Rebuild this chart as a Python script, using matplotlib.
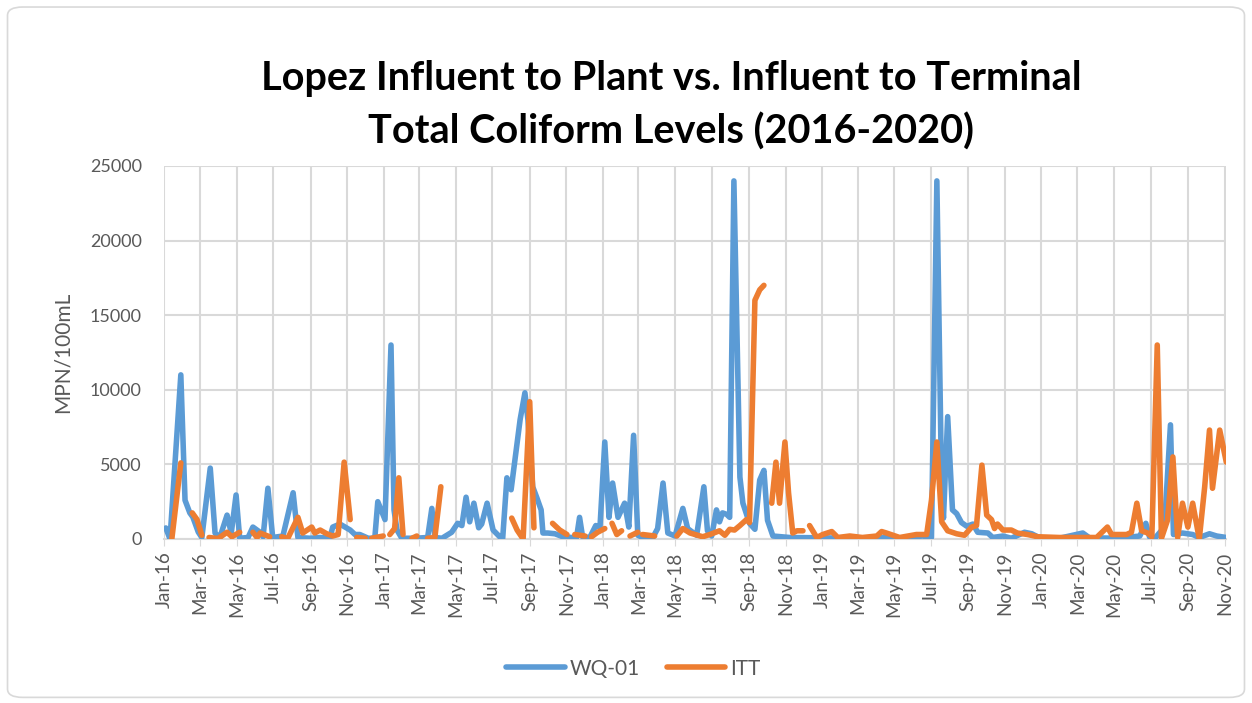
import numpy as np
import pandas as pd
import matplotlib
matplotlib.use("Agg")
import matplotlib.pyplot as plt
import matplotlib.dates as mdates
from matplotlib.patches import FancyBboxPatch

# ---------- data ----------

WQ01_DATES = [
    "2016-01-04", "2016-01-11", "2016-01-29", "2016-02-05", "2016-02-13", "2016-02-18",
    "2016-02-27", "2016-03-04", "2016-03-18", "2016-03-26", "2016-04-03", "2016-04-15",
    "2016-04-22", "2016-04-30", "2016-05-06", "2016-05-20", "2016-05-28", "2016-06-09",
    "2016-06-14", "2016-06-22", "2016-06-30", "2016-07-17", "2016-08-03", "2016-08-11",
    "2016-08-31", "2016-09-17", "2016-10-03", "2016-10-08", "2016-10-20", "2016-11-06",
    "2016-11-14", "2016-11-22", "2016-12-06", "2016-12-17", "2016-12-22", "2016-12-29",
    "2017-01-03", "2017-01-13", "2017-01-18", "2017-01-23", "2017-01-31", "2017-02-22",
    "2017-03-15", "2017-03-22", "2017-03-27", "2017-04-08", "2017-04-24", "2017-05-04",
    "2017-05-11", "2017-05-18", "2017-05-24", "2017-05-31", "2017-06-08", "2017-06-13",
    "2017-06-22", "2017-07-02", "2017-07-13", "2017-07-18", "2017-07-25", "2017-08-01",
    "2017-08-16", "2017-08-24", "2017-08-29", "2017-09-06", "2017-09-13", "2017-09-20",
    "2017-09-23", "2017-10-01", "2017-10-13", "2017-10-26", "2017-11-10", "2017-11-18",
    "2017-11-23", "2017-11-28", "2017-12-10", "2017-12-20", "2017-12-27", "2018-01-04",
    "2018-01-11", "2018-01-17", "2018-01-26", "2018-02-06", "2018-02-13", "2018-02-21",
    "2018-02-28", "2018-03-08", "2018-03-25", "2018-04-02", "2018-04-11", "2018-04-19",
    "2018-05-01", "2018-05-14", "2018-05-22", "2018-06-06", "2018-06-18", "2018-06-24",
    "2018-07-01", "2018-07-09", "2018-07-14", "2018-07-19", "2018-07-26", "2018-07-31",
    "2018-08-07", "2018-08-17", "2018-08-22", "2018-09-02", "2018-09-11", "2018-09-19",
    "2018-09-26", "2018-10-02", "2018-10-11", "2018-11-08", "2018-12-28", "2019-02-16",
    "2019-04-07", "2019-05-18", "2019-06-17", "2019-07-02", "2019-07-11", "2019-07-19",
    "2019-07-22", "2019-07-29", "2019-08-06", "2019-08-13", "2019-08-21", "2019-08-30",
    "2019-09-09", "2019-09-17", "2019-10-04", "2019-10-12", "2019-10-29", "2019-11-12",
    "2019-12-04", "2019-12-16", "2019-12-29", "2020-01-31", "2020-03-10", "2020-03-21",
    "2020-05-10", "2020-06-13", "2020-06-23", "2020-06-29", "2020-07-08", "2020-07-24",
    "2020-08-03", "2020-08-08", "2020-08-23", "2020-09-09", "2020-09-20", "2020-10-07",
    "2020-10-19", "2020-11-04",
]
WQ01_VALUES = [
    740, 0, 11000, 2600, 1750, 1470,
    470, 100, 4750, 400, 100, 1600,
    400, 2950, 50, 100, 800, 450,
    150, 3400, 100, 200, 3100, 100,
    50, 100, 50, 800, 1000, 600,
    300, 300, 50, 50, 2500, 1800,
    1300, 13000, 1950, 600, 50, 50,
    100, 2050, 100, 50, 450, 1050,
    900, 2800, 1150, 2400, 750, 1000,
    2400, 600, 150, 50, 4100, 3300,
    8000, 9800, 8000, 3500, 2750, 1950,
    400, 400, 350, 150, 100, 100,
    1450, 150, 100, 900, 800, 6500,
    1450, 3750, 1450, 2400, 800, 6950,
    250, 100, 100, 700, 3750, 400,
    200, 2050, 700, 250, 3500, 550,
    200, 1950, 1150, 1750, 1650, 1450,
    24000, 4150, 2400, 1050, 650, 3950,
    4600, 1250, 200, 100, 80, 50,
    100, 50, 200, 100, 24000, 3100,
    1400, 8200, 1950, 1700, 1100, 850,
    1000, 450, 400, 100, 200, 50,
    450, 350, 80, 50, 400, 80,
    50, 200, 1050, 150, 50, 800,
    7650, 300, 400, 300, 100, 350,
    200, 100,
]

# None marks a gap in the ITT record
ITT_DATES = [
    "2016-01-14", "2016-01-29", "2016-02-10", "2016-02-17", "2016-02-25", "2016-03-04",
    "2016-03-10", "2016-03-16", "2016-03-31", "2016-04-15", "2016-04-23", "2016-05-06",
    "2016-05-17", "2016-05-28", "2016-06-04", "2016-06-09", "2016-06-25", "2016-07-05",
    "2016-07-15", "2016-07-25", "2016-08-11", "2016-08-19", "2016-09-03", "2016-09-08",
    "2016-09-17", "2016-09-28", "2016-10-08", "2016-10-17", "2016-10-27", "2016-11-06",
    "2016-11-11", "2016-11-17", "2016-12-01", "2016-12-06", "2016-12-12", "2016-12-31",
    "2017-01-05", "2017-01-11", "2017-01-19", "2017-01-26", "2017-02-02", "2017-02-10",
    "2017-02-17", "2017-02-25", "2017-03-06", "2017-03-15", "2017-03-27", "2017-04-06",
    "2017-06-01", "2017-08-02", "2017-08-11", "2017-08-21", "2017-09-01", "2017-09-08",
    "2017-09-25", "2017-10-09", "2017-10-21", "2017-11-02", "2017-11-08", "2017-11-15",
    "2017-12-02", "2017-12-07", "2017-12-13", "2017-12-23", "2018-01-04", "2018-01-10",
    "2018-01-16", "2018-01-24", "2018-02-01", "2018-02-08", "2018-02-15", "2018-02-28",
    "2018-03-04", "2018-03-08", "2018-03-28", "2018-04-15", "2018-05-04", "2018-05-14",
    "2018-05-26", "2018-06-16", "2018-06-28", "2018-07-14", "2018-07-23", "2018-07-31",
    "2018-08-08", "2018-08-17", "2018-08-28", "2018-09-02", "2018-09-11", "2018-09-19",
    "2018-09-26", "2018-10-03", "2018-10-09", "2018-10-16", "2018-10-22", "2018-10-31",
    "2018-11-06", "2018-11-13", "2018-11-20", "2018-11-30", "2018-12-05", "2018-12-11",
    "2018-12-23", "2019-01-02", "2019-01-17", "2019-01-27", "2019-02-16", "2019-03-09",
    "2019-04-02", "2019-04-10", "2019-04-18", "2019-05-10", "2019-06-07", "2019-06-24",
    "2019-07-02", "2019-07-11", "2019-07-19", "2019-07-29", "2019-08-13", "2019-08-26",
    "2019-09-07", "2019-09-15", "2019-09-24", "2019-10-02", "2019-10-10", "2019-10-15",
    "2019-10-20", "2019-10-29", "2019-11-12", "2019-11-22", "2019-12-09", "2019-12-26",
    "2020-01-31", "2020-04-02", "2020-04-20", "2020-04-27", "2020-05-22", "2020-05-30",
    "2020-06-08", "2020-06-16", "2020-06-26", "2020-07-03", "2020-07-12", "2020-07-19",
    "2020-07-29", "2020-08-07", "2020-08-15", "2020-08-23", "2020-09-01", "2020-09-09",
    "2020-09-20", "2020-09-29", "2020-10-07", "2020-10-12", "2020-10-24", "2020-11-04",
]
ITT_VALUES = [
    0, 5100, None, 1750, 1300, 250,
    None, 100, 30, 450, 150, 450,
    None, 450, 100, 400, 150, None,
    150, 30, 1450, 400, 800, 400,
    600, 350, 200, 300, 5150, 1300,
    None, 100, 50, None, 50, 200,
    None, 300, 700, 4100, 300, None,
    50, 200, None, 50, 100, 3500,
    None, 1400, 600, 0, 9200, 750,
    None, 1050, 600, 300, None, 300,
    200, None, 150, 450, 700, None,
    1050, 300, 550, None, 200, 450,
    None, 300, 200, None, 200, 700,
    400, 150, 300, 550, 250, 650,
    600, 900, 1300, 1100, 16000, 16700,
    17000, None, 2400, 5150, 2400, 6500,
    3100, 400, 550, 550, None, 900,
    100, 300, 500, 100, 200, 100,
    200, 500, 400, 100, 300, 300,
    2600, 6500, 1150, 550, 350, 250,
    800, 900, 4950, 1600, 1300, 700,
    1000, 600, 600, 400, 300, 150,
    100, 100, 800, 300, 300, 450,
    2400, 550, 400, 150, 13000, 50,
    1250, 5500, 100, 2400, 800, 2400,
    0, 3500, 7300, 3400, 7300, 5150,
]

SERIES_NAMES = ["WQ-01", "ITT"]
SERIES_COLORS = ["#5B9BD5", "#ED7D31"]

TITLE = "Lopez Influent to Plant vs. Influent to Terminal\nTotal Coliform Levels (2016-2020)"
Y_LABEL = "MPN/100mL"
Y_TICKS = [0, 5000, 10000, 15000, 20000, 25000]

TEXT_GREY = "#595959"
GRID_GREY = "#d9d9d9"

plt.rcParams["font.family"] = ["Lato", "DejaVu Sans"]


def build_series(dates, values):
    x = pd.to_datetime(dates)
    y = np.array([np.nan if v is None else v for v in values], dtype=float)
    return x, y


fig = plt.figure(figsize=(12.52, 7.03), dpi=100)
fig.patch.set_facecolor("white")

# rounded chart-area border like the Excel chart
frame = FancyBboxPatch(
    (0.006, 0.008), 0.988, 0.982,
    boxstyle="round,pad=0,rounding_size=0.012",
    transform=fig.transFigure, facecolor="none",
    edgecolor=GRID_GREY, linewidth=1.2, zorder=-1,
)
fig.patches.append(frame)

ax = fig.add_axes([0.131, 0.2333, 0.848, 0.5306])
ax.set_facecolor("none")

x1, y1 = build_series(WQ01_DATES, WQ01_VALUES)
x2, y2 = build_series(ITT_DATES, ITT_VALUES)

ax.plot(x1, y1, color=SERIES_COLORS[0], linewidth=4.0, label=SERIES_NAMES[0],
        solid_joinstyle="round", solid_capstyle="round", zorder=3)
ax.plot(x2, y2, color=SERIES_COLORS[1], linewidth=4.0, label=SERIES_NAMES[1],
        solid_joinstyle="round", solid_capstyle="round", zorder=4)

# axes, ticks
ax.set_ylim(0, 25000)
ax.set_yticks(Y_TICKS)
ax.set_xlim(pd.Timestamp("2016-01-01"), pd.Timestamp("2020-11-03"))
ax.xaxis.set_major_locator(mdates.MonthLocator(bymonth=[1, 3, 5, 7, 9, 11]))
ax.xaxis.set_major_formatter(mdates.DateFormatter("%b-%y"))

ax.grid(True, color=GRID_GREY, linewidth=1.5, zorder=0)
ax.set_axisbelow(True)
for side in ("top", "right", "left"):
    ax.spines[side].set_visible(False)
ax.spines["bottom"].set_color(GRID_GREY)
ax.spines["bottom"].set_linewidth(1.5)

ax.tick_params(axis="y", length=0, labelsize=13, labelcolor=TEXT_GREY, pad=16)
ax.tick_params(axis="x", length=5, color=GRID_GREY, labelsize=13.5,
               labelcolor=TEXT_GREY, labelrotation=90, pad=4)

ax.set_ylabel(Y_LABEL, fontsize=15, color=TEXT_GREY, labelpad=12)

fig.suptitle(TITLE, fontsize=28.5, fontweight="bold", x=0.536, y=0.915, linespacing=1.5)

leg = fig.legend(loc="center", bbox_to_anchor=(0.506, 0.049), ncol=2, frameon=False,
                 fontsize=15, handlelength=2.8, handletextpad=0.25, columnspacing=1.3)
for t in leg.get_texts():
    t.set_color(TEXT_GREY)

fig.savefig("out.png", dpi=100)
